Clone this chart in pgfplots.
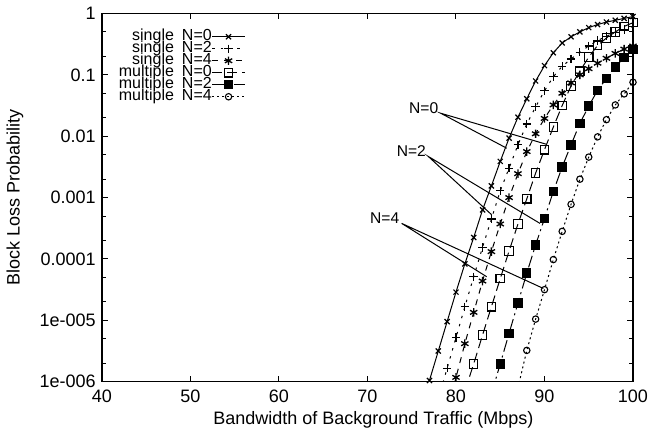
\documentclass[border=0pt]{standalone}
\usepackage{pgfplots}
\pgfplotsset{compat=1.18}
\usepackage{fontspec}
\setmainfont{Liberation Sans}
\begin{document}
\fontsize{9}{10.8}\selectfont
\begin{tikzpicture}
\begin{axis}[
  at={(0,0)}, anchor=south west,
  scale only axis, width=265.5pt, height=184.1pt,
  xmin=40, xmax=100, ymode=log, ymin=1e-6, ymax=1,
  xtick={40,50,60,70,80,90,100},
  ytick={1e-6,1e-5,1e-4,1e-3,1e-2,1e-1,1},
  yticklabels={1e-006,1e-005,0.0001,0.001,0.01,0.1,1},
  minor ytick={2e-6,5e-6,2e-5,5e-5,2e-4,5e-4,2e-3,5e-3,2e-2,5e-2,2e-1,5e-1},
  /pgf/number format/assume math mode=true,
  tick align=inside, xtick pos=both, ytick pos=both,
  major tick length=3pt, minor tick length=1.8pt,
  tick style={black, line width=0.5pt},
  axis line style={line width=0.7pt},
  ticklabel style={font=\fontsize{9}{10.8}\selectfont},
  xticklabel style={yshift=-1pt},
  xlabel={Bandwidth of Background Traffic (Mbps)},
  ylabel={Block Loss Probability},
  xlabel style={at={(axis description cs:0.511,0)}, anchor=center, yshift=-19.2pt, font=\fontsize{9}{10.8}\selectfont},
  ylabel style={at={(axis description cs:-0.1638,0.5)}, anchor=center, font=\fontsize{9}{10.8}\selectfont},
  legend style={at={(0.27,0.955)}, anchor=north east, draw=none, fill=none, inner sep=0pt, outer sep=0pt,
    font=\fontsize{8}{9}\selectfont, nodes={inner sep=0pt, outer sep=0pt, text height=5.3pt, text depth=1.4pt}, column sep=0pt, row sep=-0.7pt},
  legend cell align=right,
  legend plot pos=right,
  legend image code/.code={\draw[#1] (0pt,0pt) -- (16.3pt,0pt); \draw[#1, only marks] plot coordinates {(8.15pt,0pt)};},
  every axis plot/.append style={line width=0.5pt, black},
]
% single N=0
\addplot[solid, mark=x, mark size=1.8pt, mark options={solid, line width=0.6pt}] coordinates {
(77,1.047e-6) (78,3.162e-6) (79,9.550e-6) (80,2.884e-5) (81,8.318e-5) (82,2.239e-4)
(83,6.310e-4) (84,1.549e-3) (85,3.890e-3) (86,9.333e-3) (87,2.042e-2) (88,4.074e-2)
(89,7.943e-2) (90,0.1413) (91,0.2291) (92,0.3311) (93,0.4169) (94,0.5012) (95,0.5888)
(96,0.6607) (97,0.7244) (98,0.7762) (99,0.8318) (100,0.8913)};
\addlegendentry{single\enspace N=0}
% single N=2
\addplot[dash pattern=on 1.2pt off 3pt, mark=+, mark size=2.1pt, mark options={solid, line width=0.6pt}] coordinates {
(78,5.248e-7) (79,1.660e-6) (80,5.248e-6) (81,1.660e-5) (82,5.129e-5) (83,1.549e-4)
(84,4.467e-4) (85,1.288e-3) (86,3.020e-3) (87,7.244e-3) (88,1.585e-2) (89,3.020e-2)
(90,5.495e-2) (91,9.333e-2) (92,0.1380) (93,0.1820) (94,0.2344) (95,0.2951) (96,0.3631)
(97,0.4266) (98,0.4898) (99,0.5495) (100,0.6166)};
\addlegendentry{single\enspace N=2}
% single N=4
\addplot[dash pattern=on 3pt off 3pt, mark=asterisk, mark size=2.1pt, mark options={solid, line width=0.65pt}] coordinates {
(79,3.548e-7) (80,1.175e-6) (81,4.169e-6) (82,1.349e-5) (83,4.365e-5) (84,1.318e-4)
(85,3.715e-4) (86,1.000e-3) (87,2.455e-3) (88,5.623e-3) (89,1.096e-2) (90,1.950e-2)
(91,3.236e-2) (92,5.012e-2) (93,7.413e-2) (94,0.1000) (95,0.1259) (96,0.1549) (97,0.1862)
(98,0.2239) (99,0.2630) (100,0.2951)};
\addlegendentry{single\enspace N=4}
% multiple N=0
\addplot[dash pattern=on 5pt off 2.5pt, mark=square, mark size=2.1pt, mark options={solid, fill=white, line width=0.6pt}] coordinates {
(81,7.079e-7) (82,1.950e-6) (83,5.754e-6) (84,1.660e-5) (85,4.786e-5) (86,1.349e-4)
(87,3.715e-4) (88,9.550e-4) (89,2.512e-3) (90,6.026e-3) (91,1.413e-2) (92,3.162e-2)
(93,6.607e-2) (94,0.1148) (95,0.1950) (96,0.3020) (97,0.3981) (98,0.5012) (99,0.6166) (100,0.7079)};
\addlegendentry{multiple\enspace N=0}
% multiple N=2
\addplot[dash pattern=on 6pt off 2pt on 1pt off 2pt, mark=square*, mark size=2.1pt, mark options={solid, fill=black}] coordinates {
(84,6.310e-7) (85,1.950e-6) (86,6.166e-6) (87,1.905e-5) (88,5.888e-5) (89,1.698e-4)
(90,4.571e-4) (91,1.259e-3) (92,3.162e-3) (93,7.244e-3) (94,1.622e-2) (95,3.090e-2)
(96,5.623e-2) (97,8.710e-2) (98,0.1349) (99,0.1905) (100,0.2570)};
\addlegendentry{multiple\enspace N=2}
% multiple N=4
\addplot[dash pattern=on 1pt off 1.5pt, mark=o, mark size=1.6pt, mark options={solid, fill=white, line width=0.55pt}] coordinates {
(87,7.943e-7) (88,3.236e-6) (89,1.047e-5) (90,3.162e-5) (91,9.772e-5) (92,2.818e-4)
(93,7.762e-4) (94,1.995e-3) (95,4.571e-3) (96,9.772e-3) (97,1.862e-2) (98,3.236e-2)
(99,4.898e-2) (100,7.586e-2)};
\addlegendentry{multiple\enspace N=4}
% annotations
\draw[line width=0.5pt] (axis cs:90.2,7.41e-3) -- (axis cs:78.27,0.0237) -- (axis cs:85.73,6.38e-3);
\node[anchor=east, inner sep=1pt, yshift=2.5pt, font=\fontsize{7.8}{9}\selectfont] at (axis cs:78.27,0.0237) {N=0};
\draw[line width=0.5pt] (axis cs:89.49,3.80e-4) -- (axis cs:76.87,4.68e-3) -- (axis cs:84.03,5.25e-4);
\node[anchor=east, inner sep=1pt, yshift=2.5pt, font=\fontsize{7.8}{9}\selectfont] at (axis cs:76.87,4.68e-3) {N=2};
\draw[line width=0.5pt] (axis cs:89.87,3.31e-5) -- (axis cs:73.86,3.80e-4) -- (axis cs:83.47,5.13e-5);
\node[anchor=east, inner sep=1pt, yshift=2.5pt, font=\fontsize{7.8}{9}\selectfont] at (axis cs:73.86,3.80e-4) {N=4};
\end{axis}
\pgfresetboundingbox
\path (-51pt,-30.15pt) rectangle (275pt,190.85pt);
\end{tikzpicture}
\end{document}
